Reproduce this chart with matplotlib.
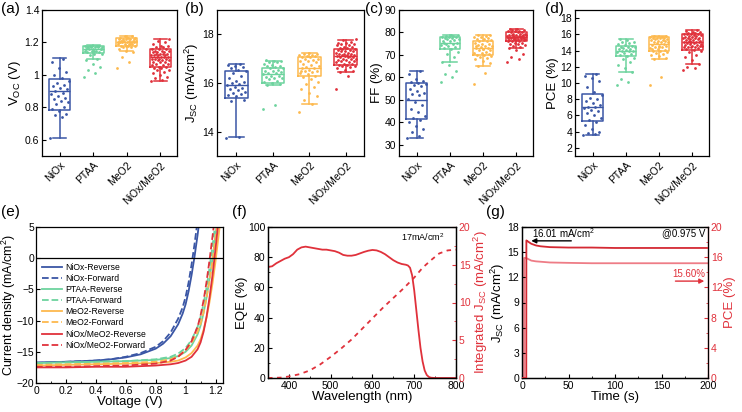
import numpy as np
import matplotlib
matplotlib.use("Agg")
import matplotlib.pyplot as plt
from matplotlib.ticker import AutoMinorLocator

plt.rcParams.update({"font.family": ["Liberation Sans", "DejaVu Sans"], "font.size": 7.5,
                     "mathtext.default": "regular", "axes.linewidth": 0.9,
                     "xtick.direction": "in", "ytick.direction": "in",
                     "xtick.major.size": 3, "ytick.major.size": 3,
                     "xtick.minor.size": 1.6, "ytick.minor.size": 1.6,
                     "xtick.major.width": 0.8, "ytick.major.width": 0.8,
                     "xtick.major.pad": 2, "ytick.major.pad": 2,
                     "xtick.labelsize": 7.5, "ytick.labelsize": 7.5})

BLUE, GREEN, ORANGE, RED = "#3A56A5", "#6DD39E", "#FDB94E", "#E0313B"
COLS = [BLUE, GREEN, ORANGE, RED]
GROUPS = ["NiOx", "PTAA", "MeO2", "NiOx/MeO2"]

# ---- box statistics: (whislo, q1, med, q3, whishi) ----
voc_box = [(0.61, 0.785, 0.90, 0.975, 1.105), (1.10, 1.135, 1.16, 1.175, 1.185),
           (1.145, 1.18, 1.205, 1.225, 1.24), (0.965, 1.05, 1.11, 1.16, 1.22)]
jsc_box = [(13.8, 15.4, 15.9, 16.5, 16.8), (15.9, 16.0, 16.35, 16.6, 16.9),
           (15.15, 16.3, 16.6, 17.05, 17.25), (16.45, 16.75, 17.1, 17.4, 17.75)]
ff_box = [(33, 41.5, 50, 57.5, 63), (67, 72.5, 75.5, 78, 79),
          (65, 70, 73, 76, 79), (73, 76, 78, 80, 81.5)]
pce_box = [(3.6, 5.3, 7.0, 8.6, 11.1), (11.3, 13.3, 14.0, 14.6, 15.4),
           (13.0, 14.0, 14.8, 15.7, 15.8), (12.4, 14.05, 15.1, 16.0, 16.5)]

# ---- individual device points ----
voc_pts = [
    [0.61, 0.74, 0.75, 0.76, 0.78, 0.79, 0.80, 0.82, 0.83, 0.84, 0.85, 0.86, 0.87, 0.88,
     0.89, 0.90, 0.91, 0.92, 0.93, 0.94, 0.95, 0.96, 0.98, 1.00, 1.02, 1.04, 1.08, 1.10],
    [0.99, 1.01, 1.03, 1.05, 1.07, 1.09, 1.10, 1.12, 1.13, 1.13, 1.14, 1.14, 1.15, 1.15,
     1.15, 1.16, 1.16, 1.16, 1.16, 1.17, 1.17, 1.17, 1.17, 1.17, 1.18, 1.18, 1.18, 1.18,
     1.18, 1.16, 1.15, 1.17],
    [1.04, 1.08, 1.11, 1.14, 1.15, 1.16, 1.17, 1.17, 1.18, 1.18, 1.18, 1.19, 1.19, 1.19,
     1.19, 1.20, 1.20, 1.20, 1.20, 1.20, 1.21, 1.21, 1.21, 1.21, 1.21, 1.22, 1.22, 1.22,
     1.22, 1.23, 1.23, 1.23, 1.24, 1.24, 1.20, 1.19, 1.21, 1.22, 1.18, 1.20],
    [0.96, 0.97, 0.98, 0.99, 1.00, 1.01, 1.02, 1.03, 1.03, 1.04, 1.04, 1.05, 1.05, 1.06,
     1.06, 1.07, 1.07, 1.08, 1.08, 1.08, 1.09, 1.09, 1.09, 1.10, 1.10, 1.10, 1.10, 1.11,
     1.11, 1.11, 1.11, 1.12, 1.12, 1.12, 1.12, 1.13, 1.13, 1.13, 1.13, 1.14, 1.14, 1.14,
     1.15, 1.15, 1.15, 1.16, 1.16, 1.16, 1.17, 1.17, 1.18, 1.18, 1.19, 1.20, 1.21, 1.22]]
jsc_pts = [
    [13.75, 13.8, 15.25, 15.3, 15.45, 15.5, 15.55, 15.6, 15.65, 15.7, 15.75, 15.8, 15.85,
     15.9, 15.95, 16.0, 16.05, 16.1, 16.2, 16.3, 16.4, 16.5, 16.55, 16.6, 16.65, 16.7,
     16.75, 16.8],
    [14.95, 15.1, 15.9, 15.95, 16.0, 16.05, 16.1, 16.15, 16.2, 16.2, 16.25, 16.3, 16.3,
     16.35, 16.4, 16.4, 16.45, 16.5, 16.5, 16.55, 16.6, 16.6, 16.65, 16.7, 16.7, 16.75,
     16.8, 16.85, 16.85, 16.9, 16.9, 16.95],
    [14.8, 15.15, 15.3, 15.45, 15.6, 15.75, 15.85, 15.95, 16.05, 16.15, 16.25, 16.3, 16.35,
     16.4, 16.45, 16.5, 16.5, 16.55, 16.6, 16.6, 16.65, 16.7, 16.75, 16.8, 16.85, 16.9,
     16.9, 16.95, 17.0, 17.0, 17.05, 17.05, 17.1, 17.1, 17.15, 17.15, 17.2, 17.2, 17.25, 16.5],
    [15.75, 16.3, 16.45, 16.5, 16.55, 16.6, 16.65, 16.7, 16.7, 16.75, 16.75, 16.8, 16.8,
     16.85, 16.85, 16.9, 16.9, 16.95, 16.95, 17.0, 17.0, 17.0, 17.05, 17.05, 17.05, 17.1,
     17.1, 17.1, 17.15, 17.15, 17.15, 17.2, 17.2, 17.2, 17.25, 17.25, 17.3, 17.3, 17.3,
     17.35, 17.35, 17.4, 17.4, 17.45, 17.45, 17.5, 17.5, 17.55, 17.55, 17.6, 17.6, 17.65,
     17.65, 17.7, 17.75, 17.8]]
ff_pts = [
    [33, 34, 35.5, 37, 38.5, 40, 41, 42, 43, 44.5, 46, 47.5, 49, 50.5, 52, 52.5, 53, 54, 55,
     56, 56.5, 57, 57.5, 58, 58.5, 59.5, 61.5, 63],
    [58, 60, 61.5, 63, 65.5, 67, 69, 70.5, 71.5, 72.5, 73, 73.5, 74, 74.5, 75, 75, 75.5, 76,
     76, 76.5, 77, 77, 77.5, 77.5, 78, 78, 78, 78.5, 78.5, 79, 79, 75.5],
    [57, 62, 65, 66.5, 67.5, 68, 68.5, 69, 69.5, 70, 70, 70.5, 71, 71, 71.5, 72, 72, 72.5,
     73, 73, 73.5, 74, 74, 74.5, 75, 75, 75.5, 76, 76, 76.5, 77, 77, 77.5, 78, 78, 78.5, 79,
     79, 72.5, 74],
    [67, 68, 69, 70.5, 72, 73, 73.5, 74, 74.5, 75, 75, 75.5, 75.5, 76, 76, 76, 76.5, 76.5,
     76.5, 77, 77, 77, 77, 77.5, 77.5, 77.5, 77.5, 78, 78, 78, 78, 78, 78.5, 78.5, 78.5,
     78.5, 79, 79, 79, 79, 79.5, 79.5, 79.5, 80, 80, 80, 80.5, 80.5, 80.5, 81, 81, 81.5,
     81.5, 78, 77, 79]]
pce_pts = [
    [3.6, 3.7, 3.8, 4.0, 4.3, 4.8, 5.2, 5.5, 5.7, 6.0, 6.3, 6.5, 6.7, 6.9, 7.0, 7.1, 7.3,
     7.5, 7.8, 8.0, 8.2, 8.5, 8.9, 9.5, 10.2, 10.6, 10.9, 11.1],
    [9.8, 10.1, 10.5, 11.3, 11.8, 12.2, 12.6, 12.9, 13.1, 13.3, 13.5, 13.6, 13.7, 13.8, 13.9,
     14.0, 14.0, 14.1, 14.2, 14.2, 14.3, 14.4, 14.5, 14.5, 14.6, 14.7, 14.8, 14.9, 15.0,
     15.1, 15.3, 15.4],
    [9.7, 10.7, 13.0, 13.1, 13.3, 13.4, 13.6, 13.7, 13.8, 13.9, 14.0, 14.1, 14.2, 14.3,
     14.4, 14.5, 14.6, 14.6, 14.7, 14.8, 14.9, 15.0, 15.0, 15.1, 15.2, 15.2, 15.3, 15.3,
     15.4, 15.4, 15.5, 15.5, 15.6, 15.6, 15.7, 15.7, 15.8, 15.8, 14.5, 14.2],
    [11.6, 11.8, 12.0, 12.4, 12.8, 13.2, 13.5, 13.8, 14.0, 14.1, 14.2, 14.3, 14.4, 14.4,
     14.5, 14.5, 14.6, 14.6, 14.7, 14.7, 14.8, 14.8, 14.9, 14.9, 15.0, 15.0, 15.1, 15.1,
     15.2, 15.2, 15.3, 15.3, 15.4, 15.4, 15.5, 15.5, 15.6, 15.6, 15.7, 15.7, 15.8, 15.8,
     15.9, 15.9, 16.0, 16.0, 16.1, 16.1, 16.2, 16.2, 16.3, 16.3, 16.4, 16.5, 15.0, 14.6]]

# ---- J-V curves (e) ----
v_niox = [0, 0.2, 0.4, 0.5, 0.6, 0.7, 0.8, 0.85, 0.9, 0.95, 0.98, 1.0, 1.02, 1.04, 1.06, 1.08, 1.1]
j_niox_rev = [-16.7, -16.6, -16.4, -16.2, -15.9, -15.4, -14.5, -13.7, -12.5, -10.6, -8.9,
              -7.4, -5.3, -2.7, 0.3, 3.7, 7.5]
j_niox_fwd = [-16.8, -16.6, -16.4, -16.2, -15.8, -15.2, -14.2, -13.3, -11.9, -9.7, -7.9,
              -6.2, -3.9, -1.0, 2.3, 6.0, 10.0]
v_hi = [0, 0.2, 0.4, 0.6, 0.8, 0.9, 0.95, 1.0, 1.04, 1.08, 1.1, 1.12, 1.14, 1.16, 1.18, 1.2, 1.22, 1.24]
j_ptaa_rev = [-16.8, -16.7, -16.6, -16.5, -16.3, -16.0, -15.7, -15.0, -14.0, -12.2, -10.8,
              -8.8, -6.3, -3.3, 0.0, 3.7, 7.5, 11.0]
j_ptaa_fwd = [-16.8, -16.7, -16.6, -16.5, -16.2, -15.8, -15.3, -14.4, -13.1, -11.0, -9.4,
              -7.3, -4.7, -1.5, 2.0, 5.8, 9.5, 13.0]
j_meo2_rev = [-17.2, -17.1, -17.0, -16.9, -16.8, -16.6, -16.4, -15.9, -15.2, -14.0, -13.0,
              -11.5, -9.5, -7.0, -4.0, -0.5, 3.5, 7.5]
j_meo2_fwd = [-17.1, -17.0, -16.9, -16.8, -16.6, -16.2, -15.7, -14.8, -13.6, -11.8, -10.5,
              -8.7, -6.4, -3.6, -0.4, 3.2, 7.0, 10.5]
j_mix_rev = [-17.5, -17.5, -17.4, -17.4, -17.2, -17.0, -16.8, -16.4, -15.8, -14.6, -13.5,
             -11.8, -9.4, -6.3, -2.7, 1.5, 6.0, 10.0]
j_mix_fwd = [-17.4, -17.4, -17.3, -17.2, -16.9, -16.4, -15.8, -14.7, -13.3, -11.0, -9.2,
             -6.8, -3.8, -0.3, 3.5, 7.5, 11.5, 15.0]

# ---- EQE (f) ----
wl = [350, 360, 370, 380, 390, 400, 410, 420, 430, 440, 450, 460, 470, 480, 490, 500, 510,
      520, 530, 540, 550, 560, 570, 580, 590, 600, 610, 620, 630, 640, 650, 660, 670, 680,
      685, 690, 695, 700, 705, 710, 715, 720, 725, 730, 735, 740, 750, 800]
eqe = [73.5, 74, 76, 77.5, 79, 80, 82, 85, 86.5, 87, 86.5, 86, 85.5, 85, 85, 84.5, 84, 83,
       81.5, 81, 81, 81.5, 82.5, 83.5, 84.3, 84.8, 84.5, 83.5, 82, 80, 78, 76.5, 75.5, 75,
       74.5, 73, 68, 58, 45, 32, 20, 11, 5, 2, 0.7, 0.2, 0, 0]
wl_int = [350, 380, 400, 425, 450, 475, 500, 525, 550, 575, 600, 625, 650, 675, 700, 720,
          740, 760, 780, 800]
j_int = [0, 0.05, 0.2, 0.5, 1.0, 1.8, 2.8, 3.9, 5.1, 6.5, 7.9, 9.3, 10.6, 11.9, 13.3, 14.6,
         15.6, 16.5, 16.9, 17.0]

# ---- stability (g) ----
t_s = [0, 2.2, 2.3, 4.6, 4.7, 6, 10, 15, 20, 30, 50, 75, 100, 150, 200]
jsc_t = [0, 0, 0, 0, 16.4, 16.3, 16.0, 15.8, 15.7, 15.6, 15.55, 15.55, 15.5, 15.5, 15.5]
pce_t = [0, 0, 15.9, 15.9, 15.85, 15.8, 15.55, 15.45, 15.4, 15.3, 15.25, 15.2, 15.2, 15.2, 15.2]

W, H = 742, 412
fig = plt.figure(figsize=(W / 100, H / 100), dpi=100)


def px_axes(x0, x1, y0, y1):
    return fig.add_axes([x0 / W, 1 - y1 / H, (x1 - x0) / W, (y1 - y0) / H])


def boxpanel(ax, stats, pts, ylabel, ylim, yticks, ylabs):
    pos = np.arange(1, 5)
    bx = [dict(whislo=s[0], q1=s[1], med=s[2], q3=s[3], whishi=s[4], fliers=[]) for s in stats]
    art = ax.bxp(bx, positions=pos, widths=0.62, showfliers=False, capwidths=0.4)
    for i, c in enumerate(COLS):
        art["boxes"][i].set(color=c, lw=1.1)
        art["medians"][i].set(color=c, lw=1.0)
        for k in (2 * i, 2 * i + 1):
            art["whiskers"][k].set(color=c, lw=1.1)
            art["caps"][k].set(color=c, lw=1.1)
        n = len(pts[i])
        off = ((np.arange(n) * 0.618034) % 1 - 0.5) * 0.56
        ax.scatter(pos[i] + off, pts[i], s=4, color=c, lw=0, zorder=3)
    ax.set_xlim(0.47, 4.5)
    ax.set_ylim(*ylim)
    ax.set_yticks(yticks)
    ax.set_yticklabels(ylabs)
    ax.set_xticks(pos)
    ax.set_xticklabels(GROUPS, rotation=45, ha="right", rotation_mode="anchor")
    ax.tick_params(axis="x", pad=3)
    ax.set_ylabel(ylabel, fontsize=9.5, labelpad=1)


a = px_axes(42, 177, 10, 156)
boxpanel(a, voc_box, voc_pts, "V$_{OC}$ (V)", (0.5, 1.4), [0.6, 0.8, 1.0, 1.2, 1.4],
         ["0.6", "0.8", "1", "1.2", "1.4"])
b = px_axes(217, 364, 10, 156)
boxpanel(b, jsc_box, jsc_pts, "J$_{SC}$ (mA/cm$^2$)", (13, 19), [14, 16, 18], ["14", "16", "18"])
c = px_axes(399, 533, 10, 156)
boxpanel(c, ff_box, ff_pts, "FF (%)", (25, 90), range(30, 91, 10), [str(v) for v in range(30, 91, 10)])
d = px_axes(575, 709, 10, 156)
boxpanel(d, pce_box, pce_pts, "PCE (%)", (1, 19), range(2, 19, 2), [str(v) for v in range(2, 19, 2)])

# ---- (e) J-V ----
e = px_axes(36, 223, 227, 383)
jv = [(v_niox, j_niox_rev, BLUE, "-", "NiOx-Reverse"), (v_niox, j_niox_fwd, BLUE, "--", "NiOx-Forward"),
      (v_hi, j_ptaa_rev, GREEN, "-", "PTAA-Reverse"), (v_hi, j_ptaa_fwd, GREEN, "--", "PTAA-Forward"),
      (v_hi, j_meo2_rev, ORANGE, "-", "MeO2-Reverse"), (v_hi, j_meo2_fwd, ORANGE, "--", "MeO2-Forward"),
      (v_hi, j_mix_rev, RED, "-", "NiOx/MeO2-Reverse"), (v_hi, j_mix_fwd, RED, "--", "NiOx/MeO2-Forward")]
for vv, jj, col, ls, lab in jv:
    e.plot(vv, jj, color=col, ls=ls, lw=1.3, label=lab)
e.axhline(0, color="k", lw=0.9)
e.set_xlim(0, 1.25)
e.set_ylim(-20, 5)
e.set_xticks([0, 0.2, 0.4, 0.6, 0.8, 1.0, 1.2])
e.set_xticklabels(["0", "0.2", "0.4", "0.6", "0.8", "1", "1.2"])
e.set_yticks([-20, -15, -10, -5, 0, 5])
e.tick_params(axis="y", pad=1)
e.xaxis.set_minor_locator(AutoMinorLocator(2))
e.set_xlabel("Voltage (V)", fontsize=9.5, labelpad=0)
e.set_ylabel("Current density (mA/cm$^2$)", fontsize=9, labelpad=-1)
e.legend(loc="upper left", bbox_to_anchor=(0.0, 0.81), frameon=False, fontsize=6.2,
         handlelength=2.3, handletextpad=0.4, labelspacing=0.25, borderpad=0.2)

# ---- (f) EQE ----
f = px_axes(268, 456, 227, 378)
f.plot(wl, eqe, color=RED, lw=1.3)
f.set_xlim(350, 800)
f.set_ylim(0, 100)
f.set_xticks([400, 500, 600, 700, 800])
f.set_yticks(range(0, 101, 20))
f.xaxis.set_minor_locator(AutoMinorLocator(2))
f.yaxis.set_minor_locator(AutoMinorLocator(2))
f.set_xlabel("Wavelength (nm)", fontsize=9.5, labelpad=0)
f.set_ylabel("EQE (%)", fontsize=9.5, labelpad=0)
f.text(719, 93.5, "17mA/cm$^2$", fontsize=6.5, ha="center", va="center")
f2 = f.twinx()
f2.plot(wl_int, j_int, color=RED, ls=(0, (2.5, 2.5)), lw=1.3)
f2.set_ylim(0, 20)
f2.set_yticks(range(0, 21, 5))
f2.yaxis.set_minor_locator(AutoMinorLocator(2))
f2.tick_params(axis="y", which="both", colors=RED, labelcolor=RED)
f2.set_ylabel("Integrated J$_{SC}$ (mA/cm$^2$)", fontsize=9.5, color=RED, labelpad=1)

# ---- (g) stability ----
DRED, PINK = "#D42A33", "#EE7C86"
g = px_axes(522, 708, 227, 378)
g2 = g.twinx()
g2.plot(t_s, pce_t, color=PINK, lw=1.3)
g.plot(t_s, jsc_t, color=DRED, lw=1.3, zorder=3)
g.set_zorder(g2.get_zorder() + 1)
g.patch.set_visible(False)
g.set_xlim(0, 200)
g.set_ylim(0, 18)
g.set_xticks([0, 50, 100, 150, 200])
g.set_yticks(range(0, 19, 3))
g.xaxis.set_minor_locator(AutoMinorLocator(2))
g.set_xlabel("Time (s)", fontsize=9.5, labelpad=0)
g.set_ylabel("J$_{SC}$ (mA/cm$^2$)", fontsize=9.5, labelpad=0)
g2.set_ylim(0, 20)
g2.set_yticks(range(0, 21, 4))
g2.yaxis.set_minor_locator(AutoMinorLocator(2))
g2.tick_params(axis="y", which="both", colors=RED, labelcolor=RED)
g2.spines["right"].set_color(RED)
g2.set_ylabel("PCE (%)", fontsize=9.5, color=RED, labelpad=1)
g.text(11, 17.25, "16.01 mA/cm$^2$", fontsize=7, ha="left", va="center")
g.annotate("", xy=(10, 16.35), xytext=(53, 16.35),
           arrowprops=dict(arrowstyle="-|>", color="k", lw=1, mutation_scale=7, shrinkA=0, shrinkB=0))
g.text(197, 17.25, "@0.975 V", fontsize=7, ha="right", va="center")
g.text(197, 12.4, "15.60%", fontsize=7, ha="right", va="center", color=RED)
g.annotate("", xy=(196, 11.55), xytext=(165, 11.55),
           arrowprops=dict(arrowstyle="-|>", color=RED, lw=1, mutation_scale=7, shrinkA=0, shrinkB=0))

# ---- panel letters ----
for x, y, s in [(1, 2, "(a)"), (185, 2, "(b)"), (365, 2, "(c)"), (545, 2, "(d)"),
                (1, 205, "(e)"), (232, 205, "(f)"), (486, 205, "(g)")]:
    fig.text(x / W, 1 - y / H, s, fontsize=11, ha="left", va="top")

fig.savefig("out.png", dpi=100)
